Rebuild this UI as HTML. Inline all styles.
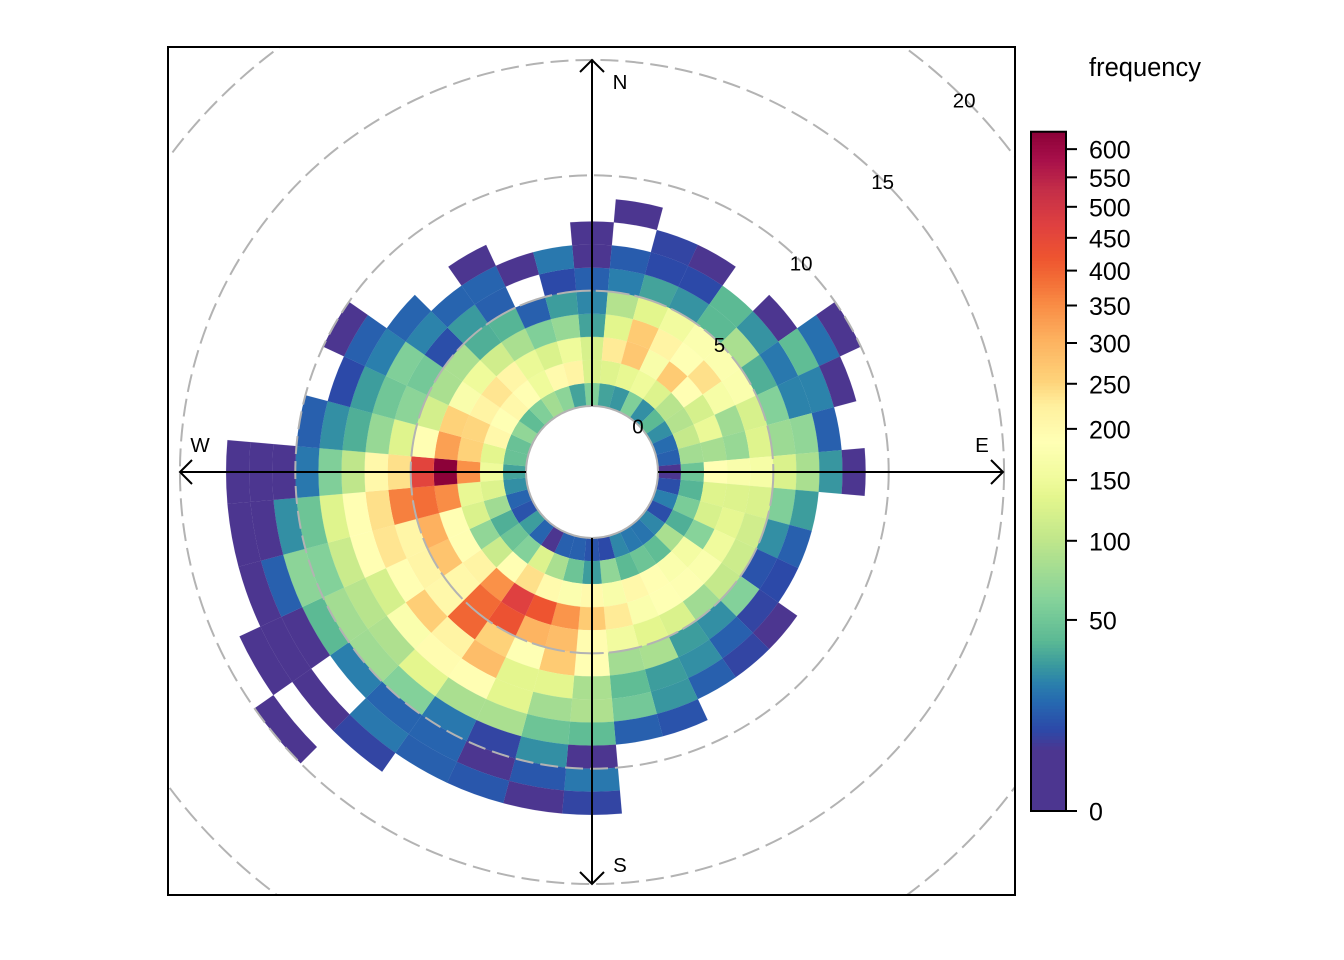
<!DOCTYPE html>
<html>
<head>
<meta charset="utf-8">
<style>
html,body{margin:0;padding:0;background:#fff;}
svg{display:block;font-family:"Liberation Sans",Arial,sans-serif;}
</style>
</head>
<body>
<svg id="chart" width="1344" height="960" viewBox="0 0 1344 960" xmlns="http://www.w3.org/2000/svg">
  <defs><clipPath id="plot-clip"><rect x="168" y="47" width="847" height="848"/></clipPath></defs>
  <rect x="0" y="0" width="1344" height="960" fill="#fff"/>
  <g id="cells" clip-path="url(#plot-clip)"></g>
  <g id="grid" clip-path="url(#plot-clip)" fill="none" stroke="#b3b3b3" stroke-width="2"></g>
  <g fill="none" stroke="#000" stroke-width="2">
    <path d="M526 472H180M192 460L180 472L192 484"/>
    <path d="M658 472H1003M991 460L1003 472L991 484"/>
    <path d="M592 406V60M580 72L592 60L604 72"/>
    <path d="M592 538V884M580 872L592 884L604 872"/>
  </g>
  <g font-size="20.5" fill="#000" text-anchor="middle">
    <text x="620" y="89">N</text>
    <text x="982" y="452">E</text>
    <text x="620" y="872">S</text>
    <text x="200" y="452">W</text>
  </g>
  <g id="radial-labels" font-size="20.5" fill="#000" text-anchor="middle"></g>
  <rect x="168" y="47" width="847" height="848" fill="none" stroke="#000" stroke-width="2"/>
  <g id="key"></g>
  <text x="1089" y="76" font-size="25.5" fill="#000">frequency</text>
</svg>
<script>
// Frequency per 1-unit wind speed ring (inner to outer), one array per direction
const dir000 = [58,125,122,32,24,14,3,3];
const dir010 = [32,130,230,134,92,22,13,null,3];
const dir020 = [28,140,270,265,134,32,9,8];
const dir030 = [58,150,170,215,155,27,9,3];
const dir040 = [26,128,265,185,178,40,40];
const dir050 = [40,95,190,240,178,85,27,3];
const dir060 = [26,92,120,165,175,36,20,42,18,3];
const dir070 = [17,105,145,78,122,60,23,23,3];
const dir080 = [14,80,82,72,130,75,68,14];
const dir090 = [3,48,190,172,165,125,85,28,3];
const dir100 = [10,38,130,128,125,58,30];
const dir110 = [22,55,122,138,115,26,14];
const dir120 = [10,36,62,152,112,11,9];
const dir130 = [24,85,160,175,105,60,8,3];
const dir140 = [19,42,175,182,78,26,14,8];
const dir150 = [20,48,190,185,125,30,26,14];
const dir160 = [24,40,205,175,135,85,30,28,11];
const dir170 = [9,68,170,230,155,80,42,52,14];
const dir180 = [11,30,200,265,195,190,85,88,42,3,20,8];
const dir190 = [14,48,178,340,285,265,135,80,48,26,12,3];
const dir200 = [14,85,200,420,300,185,135,135,85,8,3,12];
const dir210 = [3,128,240,470,425,255,285,190,85,20,15,14];
const dir220 = [15,60,190,345,390,395,215,195,135,60,15,20,8];
const dir230 = [30,48,110,215,205,205,260,175,88,78,22,null,3,null,3];
const dir240 = [11,36,68,190,275,212,190,120,95,80,40,3,3,3];
const dir250 = [15,78,125,190,305,210,235,190,110,60,65,14,3];
const dir260 = [26,128,142,350,385,365,240,190,130,48,26,3,3];
const dir270 = [32,150,345,630,460,240,205,100,58,20,3,3,3];
const dir280 = [46,135,255,325,190,130,72,36,26,14];
const dir290 = [46,205,250,255,118,65,50,30,9];
const dir300 = [68,185,215,172,85,52,58,22,14,3];
const dir310 = [42,205,235,150,85,10,23,15];
const dir320 = [58,190,210,115,36,29,15];
const dir330 = [80,150,145,85,38,14,15,3];
const dir340 = [65,200,125,58,14,null,3];
const dir350 = [32,215,150,72,30,9,20];

const directions = [0,10,20,30,40,50,60,70,80,90,100,110,120,130,140,150,160,170,180,190,200,210,220,230,240,250,260,270,280,290,300,310,320,330,340,350];
const seriesByDirection = [dir000,dir010,dir020,dir030,dir040,dir050,dir060,dir070,dir080,dir090,dir100,dir110,dir120,dir130,dir140,dir150,dir160,dir170,dir180,dir190,dir200,dir210,dir220,dir230,dir240,dir250,dir260,dir270,dir280,dir290,dir300,dir310,dir320,dir330,dir340,dir350];
const gridSpeeds = [0,5,10,15,20];
const keyTicks = [0,50,100,150,200,250,300,350,400,450,500,550,600];
const keyMax = 632;
const rampValues = [0,5,9,16,22,29,40,61,100,134,151,187,225,253,306,351,390,420,471,528,580,632];
const rampColours = ["#4c3690","#4c3690","#2c49a8","#2668b0","#2a7fad","#3a9a9e","#5cba94","#85d29a","#bfe68b","#e3f68d","#f0fb9c","#ffffb5","#fff09e","#fed37a","#fdb05e","#f98c45","#f26a35","#ee5430","#df4040","#c42e48","#a8104a","#8b0038"];

const NS = "http://www.w3.org/2000/svg";
const CX = 592, CY = 472;
function radiusScale(ws){ return 66 + 23.07 * ws; }
function keyScale(v){ return 811 - 27.02 * Math.sqrt(v); }
function polar(deg, r){
  const a = deg * Math.PI / 180;
  return [CX + r * Math.sin(a), CY - r * Math.cos(a)];
}
function hexRgb(h){ return [1,3,5].map(function(i){ return parseInt(h.substr(i,2),16); }); }
function colourFor(v){
  const s = Math.sqrt(Math.max(0, v));
  for (let i = 1; i < rampValues.length; i++){
    const a = Math.sqrt(rampValues[i-1]), b = Math.sqrt(rampValues[i]);
    if (s <= b){
      const t = b > a ? (s - a) / (b - a) : 0;
      const c0 = hexRgb(rampColours[i-1]), c1 = hexRgb(rampColours[i]);
      return "rgb(" + c0.map(function(c, k){ return Math.round(c + (c1[k] - c) * t); }).join(",") + ")";
    }
  }
  return rampColours[rampColours.length - 1];
}
function sectorPath(dir, ws){
  const r0 = radiusScale(ws), r1 = radiusScale(ws + 1);
  const p1 = polar(dir - 5, r0), p2 = polar(dir - 5, r1), p3 = polar(dir + 5, r1), p4 = polar(dir + 5, r0);
  return "M" + p1.join(" ") + "L" + p2.join(" ") +
    "A" + r1 + " " + r1 + " 0 0 1 " + p3.join(" ") + "L" + p4.join(" ") +
    "A" + r0 + " " + r0 + " 0 0 0 " + p1.join(" ") + "Z";
}

const cellsGroup = document.getElementById("cells");
directions.forEach(function(dir, di){
  seriesByDirection[di].forEach(function(v, ws){
    if (v === null) return;
    const cell = document.createElementNS(NS, "path");
    const colour = colourFor(v);
    cell.setAttribute("d", sectorPath(dir, ws));
    cell.setAttribute("fill", colour);
    cell.setAttribute("stroke", colour);
    cell.setAttribute("stroke-width", "0.12");
    
    
    cellsGroup.appendChild(cell);
  });
});

const gridGroup = document.getElementById("grid");
const labelGroup = document.getElementById("radial-labels");
gridSpeeds.forEach(function(ws){
  const c = document.createElementNS(NS, "circle");
  c.setAttribute("cx", CX);
  c.setAttribute("cy", CY);
  c.setAttribute("r", radiusScale(ws));
  if (ws === 5) c.setAttribute("stroke-dasharray", "34 5");
  else if (ws > 5) c.setAttribute("stroke-dasharray", "18 7");
  
  
  gridGroup.appendChild(c);
  const p = polar(45, radiusScale(ws) - 1);
  const t = document.createElementNS(NS, "text");
  t.setAttribute("x", p[0].toFixed(1));
  t.setAttribute("y", (p[1] + 7.5).toFixed(1));
  t.textContent = ws;
  
  
  labelGroup.appendChild(t);
});

const keyGroup = document.getElementById("key");
const steps = 200;
for (let i = 0; i < steps; i++){
  const top = keyScale(keyMax) + (811 - keyScale(keyMax)) * i / steps;
  const mid = top + (811 - keyScale(keyMax)) / steps / 2;
  const val = Math.pow((811 - mid) / 27.02, 2);
  const strip = document.createElementNS(NS, "rect");
  strip.setAttribute("x", 1031);
  strip.setAttribute("y", top.toFixed(2));
  strip.setAttribute("width", 35);
  strip.setAttribute("height", ((811 - keyScale(keyMax)) / steps + 0.6).toFixed(2));
  strip.setAttribute("fill", colourFor(val));
  
  
  keyGroup.appendChild(strip);
}
const keyBorder = document.createElementNS(NS, "rect");
keyBorder.setAttribute("x", 1031);
keyBorder.setAttribute("y", keyScale(keyMax));
keyBorder.setAttribute("width", 35);
keyBorder.setAttribute("height", 811 - keyScale(keyMax));
keyBorder.setAttribute("fill", "none");
keyBorder.setAttribute("stroke", "#000");
keyBorder.setAttribute("stroke-width", 2);


keyGroup.appendChild(keyBorder);
keyTicks.forEach(function(v){
  const y = keyScale(v);
  const tick = document.createElementNS(NS, "line");
  tick.setAttribute("x1", 1066);
  tick.setAttribute("x2", 1077);
  tick.setAttribute("y1", y);
  tick.setAttribute("y2", y);
  tick.setAttribute("stroke", "#000");
  tick.setAttribute("stroke-width", 2);
  
  
  keyGroup.appendChild(tick);
  const label = document.createElementNS(NS, "text");
  label.setAttribute("x", 1089);
  label.setAttribute("y", (y + 9.6).toFixed(1));
  label.setAttribute("font-size", 25);
  label.setAttribute("fill", "#000");
  label.textContent = v;
  
  
  keyGroup.appendChild(label);
});
</script>
</body>
</html>
